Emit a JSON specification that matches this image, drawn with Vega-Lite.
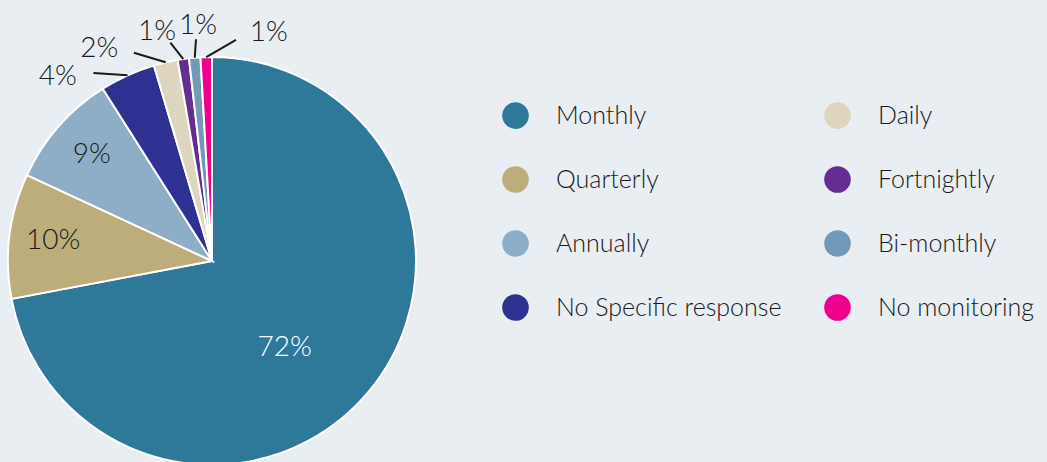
{
  "$schema": "https://vega.github.io/schema/vega-lite/v6.json",
  "width": 424,
  "height": 522,
  "autosize": {"type": "none"},
  "padding": {"left": 0, "top": 0, "right": 623, "bottom": -60},
  "background": "#e9eef3",
  "config": {"view": {"stroke": null}, "font": "Lato"},
  "data": {
    "values": [
      {"cat": "Monthly", "value": 72.1},
      {"cat": "Quarterly", "value": 9.9},
      {"cat": "Annually", "value": 9.1},
      {"cat": "No Specific response", "value": 4.4},
      {"cat": "Daily", "value": 1.9},
      {"cat": "Fortnightly", "value": 0.9},
      {"cat": "Bi-monthly", "value": 0.9},
      {"cat": "No monitoring", "value": 0.9}
    ]
  },
  "transform": [
    {"window": [{"op": "row_number", "as": "ord"}]},
    {"joinaggregate": [{"op": "sum", "field": "value", "as": "total"}]},
    {"window": [{"op": "sum", "field": "value", "as": "cum"}], "sort": [{"field": "ord"}], "frame": [null, 0]},
    {"calculate": "(datum.cum - datum.value) / datum.total * 2 * PI", "as": "a0"},
    {"calculate": "datum.cum / datum.total * 2 * PI", "as": "a1"},
    {"calculate": "(datum.a0 + datum.a1) / 2", "as": "mid"},
    {"calculate": "datum.cat === 'Monthly' ? 140 : datum.cat === 'No Specific response' ? 320 : datum.cat === 'Daily' ? 332 : datum.cat === 'Fortnightly' ? 346.5 : datum.cat === 'Bi-monthly' ? 356.6 : datum.cat === 'No monitoring' ? 374 : datum.mid * 180 / PI", "as": "laDeg"},
    {"calculate": "datum.laDeg * PI / 180", "as": "la"},
    {"calculate": "datum.cat === 'Monthly' ? 113 : datum.value >= 5 ? 160 : datum.value < 1.5 ? 235 : 240", "as": "lr"},
    {"calculate": "round(datum.value) + '%'", "as": "pct"},
    {"calculate": "sin(datum.mid)", "as": "lx1"},
    {"calculate": "cos(datum.mid)", "as": "ly1"},
    {"calculate": "1.09 * sin((datum.mid + datum.la) / 2)", "as": "lx2"},
    {"calculate": "1.09 * cos((datum.mid + datum.la) / 2)", "as": "ly2"}
  ],
  "layer": [
    {
      "mark": {"type": "arc", "radius": 204, "stroke": "white", "strokeWidth": 2},
      "encoding": {
        "theta": {"field": "a0", "type": "quantitative", "scale": null, "stack": null},
        "theta2": {"field": "a1"},
        "color": {
          "field": "cat",
          "type": "nominal",
          "scale": {
            "domain": ["Monthly", "Quarterly", "Annually", "No Specific response", "Daily", "Fortnightly", "Bi-monthly", "No monitoring"],
            "range": ["#2e7899", "#bcad7a", "#8eaec8", "#2e3191", "#ddd5bd", "#662d91", "#7399b8", "#ec008c"]
          },
          "legend": {
            "title": null,
            "orient": "none",
            "legendX": 502,
            "legendY": 102,
            "columns": 2,
            "padding": 0,
            "symbolType": "circle",
            "symbolSize": 707,
            "symbolStrokeWidth": 0,
            "symbolOpacity": 1,
            "labelFont": "Lato",
            "labelFontWeight": 300,
            "labelFontSize": 25,
            "labelColor": "#1a1a1a",
            "labelOffset": 27,
            "labelLimit": 400,
            "rowPadding": 37,
            "columnPadding": 42
          }
        },
        "order": {"field": "ord"}
      }
    },
    {
      "transform": [{"filter": "datum.value < 5"}],
      "mark": {"type": "rule", "stroke": "#1a1a1a", "strokeWidth": 2},
      "encoding": {
        "x": {"field": "lx1", "type": "quantitative", "scale": {"domain": [-1.03922, 1.03922], "nice": false, "zero": false}, "axis": null},
        "y": {"field": "ly1", "type": "quantitative", "scale": {"domain": [-1.27941, 1.27941], "nice": false, "zero": false}, "axis": null},
        "x2": {"field": "lx2"},
        "y2": {"field": "ly2"}
      }
    },
    {
      "mark": {"type": "text", "font": "Lato", "fontWeight": 300, "fontSize": 28, "align": "center", "baseline": "middle"},
      "encoding": {
        "theta": {"field": "la", "type": "quantitative", "scale": null, "stack": null},
        "radius": {"field": "lr", "type": "quantitative", "scale": null},
        "text": {"field": "pct"},
        "color": {"condition": {"test": "datum.cat === 'Monthly'", "value": "white"}, "value": "#1a1a1a"}
      }
    }
  ]
}
